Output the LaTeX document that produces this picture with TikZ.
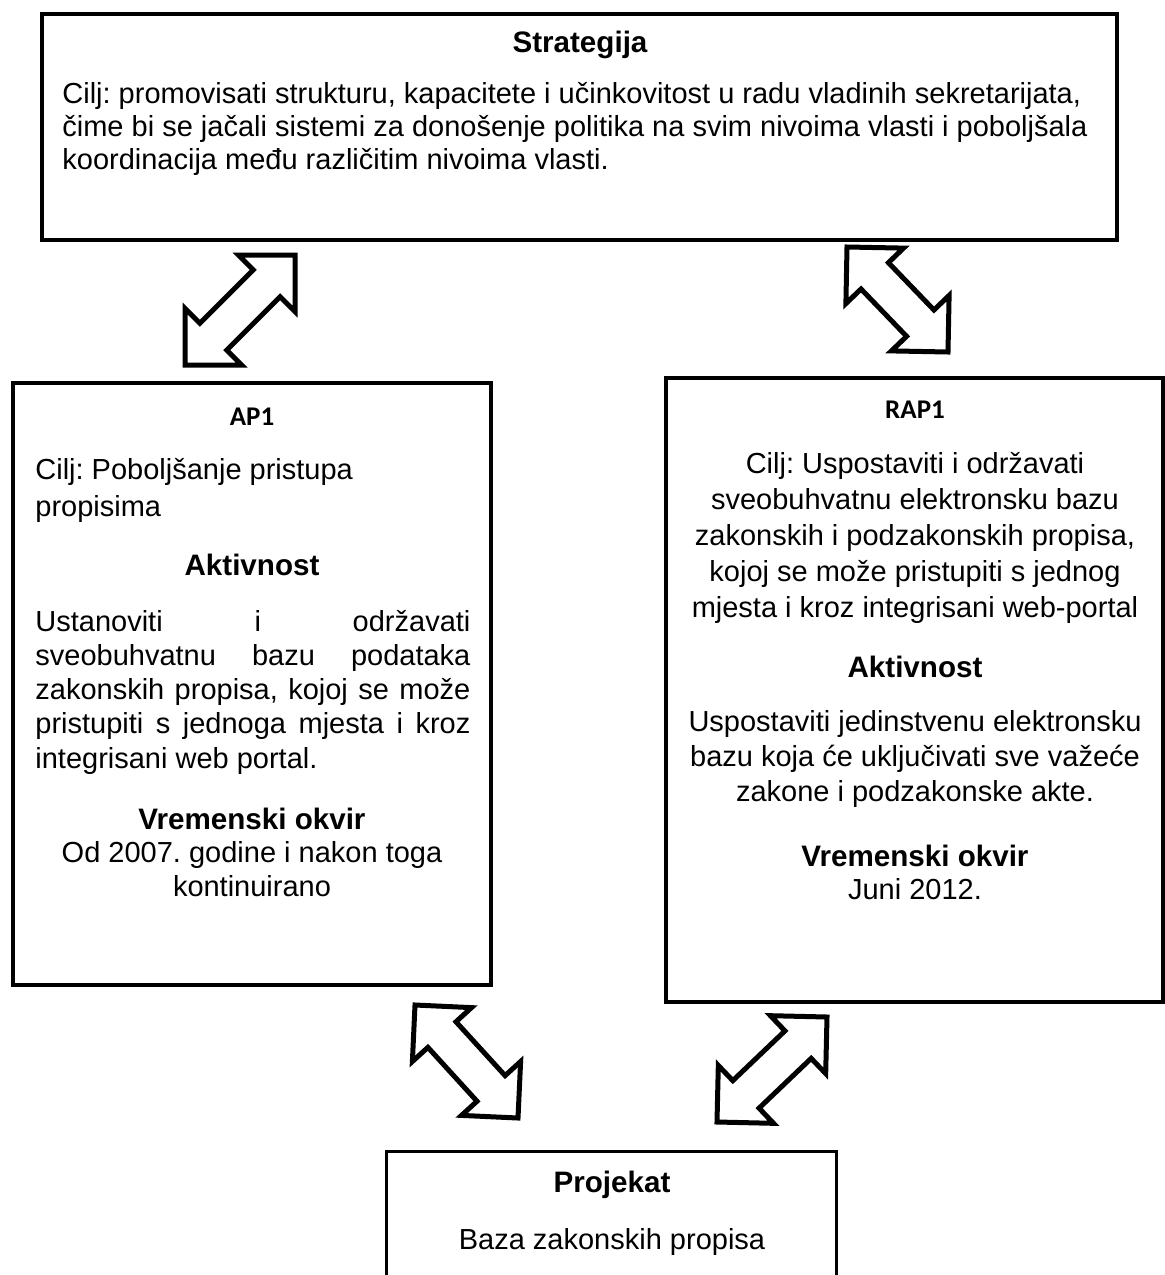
\documentclass[tikz,border=0pt]{standalone}
\usepackage{fontspec}
\setmainfont{Liberation Sans}
\newfontfamily\calibri{Carlito}
\frenchspacing
\usepackage{tikz}
\usetikzlibrary{calc, fit}

\tikzset{
  box/.style={draw, line width=1.8pt, inner sep=0pt},
  boxline/.style={line width=1.8pt},
  hdr/.style={font=\bfseries\fontsize{14.8}{16}\selectfont, inner sep=0pt, anchor=base},
  code/.style={font=\calibri\bfseries\fontsize{13.5}{16}\selectfont, inner sep=0pt, anchor=base},
  txt/.style={font=\fontsize{14.5}{17.2}\selectfont, inner sep=0pt, anchor=base},
  blockarrow/.style={draw, fill=white, line width=2.5pt, line join=miter},
}

% hollow double arrow between two named points
\newcommand{\dblarrow}[2]{%
  \coordinate (ha) at ($(#1)!20pt!(#2)$);
  \coordinate (hb) at ($(#2)!20pt!(#1)$);
  \draw[blockarrow] (#1)
    -- ($(ha)!20pt!90:(#2)$) -- ($(ha)!9.5pt!90:(#2)$)
    -- ($(hb)!9.5pt!-90:(#1)$) -- ($(hb)!20pt!-90:(#1)$)
    -- (#2)
    -- ($(hb)!20pt!90:(#1)$) -- ($(hb)!9.5pt!90:(#1)$)
    -- ($(ha)!9.5pt!-90:(#2)$) -- ($(ha)!20pt!-90:(#2)$)
    -- cycle;
}

\begin{document}
\begin{tikzpicture}[x=0.5pt, y=-0.5pt]
    \useasboundingbox (0,0) rectangle (1165,1275);

    % Strategija (multi-line nodes sit on the baseline of their last line)
    \node (strat) [box, fit={(42,14) (1117,240)}] {};
    \node[hdr] (strathd) at (580,52) {Strategija};
    \node[txt, anchor=base west, align=left, font=\fontsize{14.5}{16.3}\selectfont] (stratgoal) at (62,169)
      {Cilj: promovisati strukturu, kapacitete i učinkovitost u radu vladinih sekretarijata,\\
       čime bi se jačali sistemi za donošenje politika na svim nivoima vlasti i poboljšala\\
       koordinacija među različitim nivoima vlasti.};

    % AP1
    \node (ap) [box, fit={(13,383) (491,985)}] {};
    \node[code] (aphd) at (252,425) {AP1};
    \node[txt, anchor=base west, align=left, font=\fontsize{14.5}{18.5}\selectfont] (apgoal) at (35,516)
      {Cilj: Poboljšanje pristupa\\propisima};
    \node[hdr] (apact) at (252,575) {Aktivnost};
    \node[txt, anchor=base west, align=left, font=\fontsize{14.5}{17.1}\selectfont] (apdesc) at (35,768)
      {\makebox[217.5pt][s]{Ustanoviti i održavati}\\
       \makebox[217.5pt][s]{sveobuhvatnu bazu podataka}\\
       \makebox[217.5pt][s]{zakonskih propisa, kojoj se može}\\
       \makebox[217.5pt][s]{pristupiti s jednoga mjesta i kroz}\\
       integrisani web portal.};
    \node[hdr] (aptimehd) at (252,829) {Vremenski okvir};
    \node[txt, align=center, font=\fontsize{14.5}{17}\selectfont] (aptime) at (252,896)
      {Od 2007. godine i nakon toga\\kontinuirano};

    % RAP1
    \node (rap) [box, fit={(666,378) (1163,1002)}] {};
    \node[code] (raphd) at (915,418) {RAP1};
    \node[txt, align=center, font=\fontsize{14.5}{17.9}\selectfont] (rapgoal) at (915,617)
      {Cilj: Uspostaviti i održavati\\sveobuhvatnu elektronsku bazu\\zakonskih i podzakonskih propisa,\\
       kojoj se može pristupiti s jednog\\mjesta i kroz integrisani web-portal};
    \node[hdr] (rapact) at (915,677) {Aktivnost};
    \node[txt, align=center, font=\fontsize{14.5}{17.5}\selectfont] (rapdesc) at (915,801)
      {Uspostaviti jedinstvenu elektronsku\\bazu koja će uključivati sve važeće\\zakone i podzakonske akte.};
    \node[hdr] (raptimehd) at (915,866) {Vremenski okvir};
    \node[txt] (raptime) at (915,899) {Juni 2012.};

    % Projekat (cut off at the bottom)
    \node (proj) [inner sep=0pt, fit={(387,1152) (836,1275)}] {};
    \draw[boxline] (proj.south west) -- (proj.north west) -- (proj.north east) -- (proj.south east);
    \node[hdr] (projhd) at (612,1192) {Projekat};
    \node[txt] (projdesc) at (612,1249) {Baza zakonskih propisa};

    % Arrows
    \coordinate (sa1) at (185,365);  \coordinate (sa2) at (295,255);
    \coordinate (sb1) at (847,247);  \coordinate (sb2) at (948,352);
    \coordinate (pa1) at (415,1005); \coordinate (pa2) at (518,1118);
    \coordinate (pb1) at (717,1122); \coordinate (pb2) at (827,1017);
    \dblarrow{sa1}{sa2}
    \dblarrow{sb1}{sb2}
    \dblarrow{pa1}{pa2}
    \dblarrow{pb1}{pb2}
\end{tikzpicture}
\end{document}
